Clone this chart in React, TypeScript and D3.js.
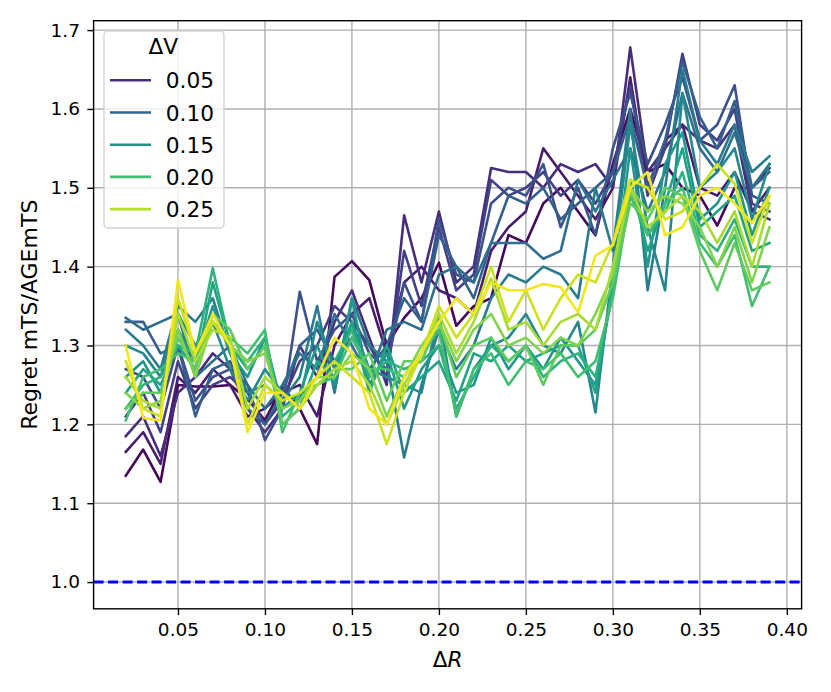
import React, { useRef, useEffect } from 'react';
import * as d3 from 'd3';

// ΔR grid (x axis)
const deltaR = [
    0.02, 0.03, 0.04, 0.05, 0.06, 0.07, 0.08, 0.09, 0.10, 0.11,
    0.12, 0.13, 0.14, 0.15, 0.16, 0.17, 0.18, 0.19, 0.20, 0.21,
    0.22, 0.23, 0.24, 0.25, 0.26, 0.27, 0.28, 0.29, 0.30, 0.31,
    0.32, 0.33, 0.34, 0.35, 0.36, 0.37, 0.38, 0.39,
];

// ΔV of each line (hue)
const deltaV = [0.02, 0.035, 0.05, 0.065, 0.08, 0.095, 0.11, 0.125, 0.14, 0.155, 0.17, 0.185, 0.2, 0.215, 0.23, 0.245, 0.26, 0.275];

// regret ratio mTS / AGEmTS, one array per ΔV
const r020 = [
    1.135, 1.168, 1.127, 1.25, 1.248, 1.248, 1.25, 1.232, 1.205, 1.248,
    1.22, 1.175, 1.387, 1.407, 1.383, 1.30, 1.335, 1.36, 1.405, 1.325,
    1.35, 1.36, 1.44, 1.43, 1.48, 1.50, 1.47, 1.44, 1.53, 1.60,
    1.52, 1.53, 1.50, 1.49, 1.452, 1.50, 1.50, 1.525,
];
const r035 = [
    1.165, 1.19, 1.15, 1.26, 1.24, 1.27, 1.25, 1.21, 1.22, 1.24,
    1.25, 1.21, 1.30, 1.34, 1.36, 1.29, 1.38, 1.40, 1.37, 1.36,
    1.34, 1.42, 1.45, 1.47, 1.55, 1.52, 1.49, 1.46, 1.50, 1.64,
    1.50, 1.56, 1.58, 1.50, 1.49, 1.52, 1.47, 1.50,
];
const r050 = [
    1.185, 1.21, 1.16, 1.24, 1.26, 1.29, 1.27, 1.22, 1.19, 1.22,
    1.30, 1.26, 1.33, 1.37, 1.31, 1.25, 1.465, 1.38, 1.47, 1.38,
    1.40, 1.525, 1.52, 1.52, 1.50, 1.53, 1.52, 1.53, 1.50, 1.678,
    1.52, 1.55, 1.58, 1.56, 1.55, 1.58, 1.47, 1.46,
];
const r065 = [
    1.21, 1.24, 1.19, 1.28, 1.22, 1.25, 1.26, 1.24, 1.20, 1.23,
    1.28, 1.30, 1.35, 1.33, 1.30, 1.26, 1.42, 1.35, 1.45, 1.37,
    1.39, 1.51, 1.49, 1.50, 1.52, 1.49, 1.51, 1.48, 1.52, 1.63,
    1.49, 1.55, 1.67, 1.58, 1.56, 1.60, 1.48, 1.47,
];
const r080 = [
    1.27, 1.26, 1.22, 1.30, 1.23, 1.26, 1.27, 1.25, 1.18, 1.22,
    1.368, 1.28, 1.32, 1.34, 1.29, 1.27, 1.38, 1.33, 1.46, 1.39,
    1.38, 1.48, 1.50, 1.49, 1.53, 1.45, 1.50, 1.44, 1.55, 1.62,
    1.53, 1.58, 1.64, 1.56, 1.58, 1.63, 1.49, 1.48,
];
const r095 = [
    1.33, 1.33, 1.29, 1.30, 1.21, 1.27, 1.28, 1.22, 1.20, 1.24,
    1.30, 1.32, 1.28, 1.31, 1.27, 1.30, 1.36, 1.33, 1.44, 1.40,
    1.36, 1.43, 1.49, 1.48, 1.50, 1.46, 1.48, 1.50, 1.52, 1.59,
    1.50, 1.56, 1.66, 1.59, 1.55, 1.61, 1.50, 1.52,
];
const r110 = [
    1.335, 1.32, 1.33, 1.34, 1.26, 1.28, 1.30, 1.25, 1.22, 1.25,
    1.29, 1.27, 1.34, 1.30, 1.26, 1.32, 1.33, 1.32, 1.39, 1.40,
    1.38, 1.43, 1.43, 1.43, 1.41, 1.42, 1.51, 1.47, 1.51, 1.55,
    1.47, 1.52, 1.62, 1.55, 1.52, 1.57, 1.50, 1.53,
];
const r125 = [
    1.32, 1.30, 1.27, 1.35, 1.33, 1.36, 1.29, 1.24, 1.25, 1.23,
    1.26, 1.35, 1.24, 1.36, 1.30, 1.28, 1.158, 1.25, 1.32, 1.27,
    1.30, 1.36, 1.39, 1.38, 1.40, 1.39, 1.36, 1.50, 1.42, 1.60,
    1.37, 1.50, 1.65, 1.56, 1.53, 1.58, 1.52, 1.54,
];
const r140 = [
    1.30, 1.29, 1.26, 1.34, 1.30, 1.33, 1.27, 1.23, 1.27, 1.24,
    1.23, 1.33, 1.27, 1.33, 1.27, 1.26, 1.25, 1.24, 1.34, 1.21,
    1.27, 1.30, 1.31, 1.34, 1.30, 1.29, 1.33, 1.215, 1.40, 1.58,
    1.45, 1.37, 1.62, 1.50, 1.52, 1.55, 1.46, 1.53,
];
const r155 = [
    1.26, 1.28, 1.24, 1.32, 1.28, 1.35, 1.29, 1.26, 1.31, 1.22,
    1.24, 1.30, 1.25, 1.36, 1.25, 1.29, 1.22, 1.27, 1.30, 1.24,
    1.25, 1.31, 1.27, 1.30, 1.27, 1.31, 1.28, 1.25, 1.37, 1.55,
    1.40, 1.53, 1.57, 1.46, 1.48, 1.52, 1.44, 1.50,
];
const r170 = [
    1.24, 1.27, 1.25, 1.30, 1.27, 1.38, 1.30, 1.27, 1.30, 1.20,
    1.22, 1.28, 1.26, 1.33, 1.24, 1.30, 1.24, 1.26, 1.28, 1.23,
    1.29, 1.28, 1.30, 1.28, 1.29, 1.30, 1.30, 1.24, 1.38, 1.51,
    1.42, 1.48, 1.55, 1.45, 1.47, 1.49, 1.42, 1.43,
];
const r185 = [
    1.22, 1.25, 1.26, 1.30, 1.29, 1.398, 1.30, 1.28, 1.31, 1.21,
    1.23, 1.26, 1.28, 1.32, 1.26, 1.28, 1.27, 1.28, 1.30, 1.22,
    1.26, 1.30, 1.28, 1.30, 1.26, 1.28, 1.29, 1.26, 1.37, 1.50,
    1.44, 1.47, 1.52, 1.44, 1.42, 1.46, 1.40, 1.40,
];
const r200 = [
    1.205, 1.26, 1.27, 1.29, 1.28, 1.33, 1.31, 1.29, 1.32, 1.19,
    1.24, 1.25, 1.26, 1.31, 1.27, 1.27, 1.26, 1.29, 1.32, 1.21,
    1.27, 1.29, 1.25, 1.28, 1.27, 1.29, 1.26, 1.28, 1.36, 1.49,
    1.44, 1.48, 1.50, 1.43, 1.40, 1.44, 1.35, 1.40,
];
const r215 = [
    1.22, 1.24, 1.24, 1.31, 1.27, 1.34, 1.32, 1.27, 1.30, 1.20,
    1.22, 1.25, 1.27, 1.27, 1.29, 1.23, 1.28, 1.28, 1.33, 1.26,
    1.30, 1.31, 1.28, 1.30, 1.25, 1.30, 1.30, 1.32, 1.38, 1.48,
    1.46, 1.50, 1.49, 1.42, 1.37, 1.43, 1.37, 1.38,
];
const r230 = [
    1.24, 1.22, 1.23, 1.32, 1.26, 1.33, 1.30, 1.28, 1.29, 1.22,
    1.23, 1.26, 1.26, 1.29, 1.27, 1.21, 1.26, 1.30, 1.33, 1.28,
    1.32, 1.34, 1.30, 1.31, 1.29, 1.31, 1.30, 1.34, 1.39, 1.50,
    1.47, 1.49, 1.48, 1.45, 1.40, 1.45, 1.38, 1.45,
];
const r245 = [
    1.26, 1.23, 1.22, 1.34, 1.28, 1.32, 1.31, 1.22, 1.26, 1.24,
    1.22, 1.25, 1.27, 1.28, 1.25, 1.20, 1.25, 1.29, 1.34, 1.29,
    1.33, 1.385, 1.32, 1.33, 1.30, 1.33, 1.34, 1.32, 1.40, 1.50,
    1.45, 1.47, 1.49, 1.47, 1.43, 1.47, 1.40, 1.48,
];
const r260 = [
    1.28, 1.22, 1.21, 1.36, 1.29, 1.33, 1.30, 1.20, 1.25, 1.23,
    1.24, 1.26, 1.28, 1.26, 1.24, 1.175, 1.24, 1.29, 1.35, 1.31,
    1.34, 1.40, 1.33, 1.37, 1.32, 1.36, 1.39, 1.38, 1.43, 1.51,
    1.50, 1.46, 1.47, 1.50, 1.53, 1.505, 1.43, 1.49,
];
const r275 = [
    1.30, 1.208, 1.205, 1.383, 1.29, 1.34, 1.30, 1.19, 1.24, 1.24,
    1.22, 1.26, 1.31, 1.29, 1.22, 1.20, 1.26, 1.29, 1.33, 1.36,
    1.34, 1.38, 1.37, 1.37, 1.378, 1.374, 1.342, 1.414, 1.427, 1.50,
    1.52, 1.44, 1.45, 1.49, 1.50, 1.48, 1.455, 1.49,
];

const regret = [r020, r035, r050, r065, r080, r095, r110, r125, r140, r155, r170, r185, r200, r215, r230, r245, r260, r275];

const legendValues = [0.05, 0.10, 0.15, 0.20, 0.25];
const legendLabels = ['0.05', '0.10', '0.15', '0.20', '0.25'];
const xTicks = [0.05, 0.10, 0.15, 0.20, 0.25, 0.30, 0.35, 0.40];
const yTicks = [1.0, 1.1, 1.2, 1.3, 1.4, 1.5, 1.6, 1.7];
const baseline = 1.0;

const FONT = 'DejaVu Sans, Liberation Sans, sans-serif';

const RegretChart: React.FC<{ width?: number; height?: number }> = ({ width = 831, height = 692 }) => {
    const svgRef = useRef<SVGSVGElement>(null);

    useEffect(() => {
        if (!svgRef.current) return;
        const svg = d3.select(svgRef.current);
        svg.selectAll('*').remove();

        const left = 93.6, right = 801.6, top = 20.7, bottom = 608.8;

        const xScale = d3.scaleLinear().domain([0.0015, 0.4085]).range([left, right]);
        const yScale = d3.scaleLinear().domain([0.9661, 1.7119]).range([bottom, top]);
        const color = d3.scaleSequential(d3.interpolateViridis).domain([0.015, 0.28]);

        svg.append('rect').attr('width', width).attr('height', height).attr('fill', '#ffffff');

        // grid
        const grid = svg.append('g').attr('stroke', '#b0b0b0').attr('stroke-width', 1.4);
        xTicks.forEach(t => {
            grid.append('line')
                .attr('x1', xScale(t)).attr('x2', xScale(t))
                .attr('y1', top).attr('y2', bottom);
        });
        yTicks.forEach(t => {
            grid.append('line')
                .attr('x1', left).attr('x2', right)
                .attr('y1', yScale(t)).attr('y2', yScale(t));
        });

        // lines, one per ΔV
        const line = d3.line<number>()
            .x((_, i) => xScale(deltaR[i]))
            .y(d => yScale(d));

        regret.forEach((s, k) => {
            svg.append('path')
                .datum(s)
                .attr('fill', 'none')
                .attr('stroke', color(deltaV[k]))
                .attr('stroke-width', 2.6)
                .attr('stroke-linejoin', 'round')
                .attr('stroke-linecap', 'square')
                .attr('d', line);
        });

        // reference line at 1.0
        svg.append('line')
            .attr('x1', left).attr('x2', right)
            .attr('y1', yScale(baseline)).attr('y2', yScale(baseline))
            .attr('stroke', '#0000ff')
            .attr('stroke-width', 3)
            .attr('stroke-dasharray', '10,4.5');

        // axes
        const xAxis = d3.axisBottom(xScale).tickValues(xTicks).tickSize(6.3).tickSizeOuter(0)
            .tickPadding(8).tickFormat(d => d3.format('.2f')(d as number));
        const yAxis = d3.axisLeft(yScale).tickValues(yTicks).tickSize(6.3).tickSizeOuter(0)
            .tickPadding(7.3).tickFormat(d => d3.format('.1f')(d as number));

        const gx = svg.append('g').attr('transform', `translate(0,${bottom})`).call(xAxis);
        const gy = svg.append('g').attr('transform', `translate(${left},0)`).call(yAxis);
        [gx, gy].forEach(g => {
            g.select('.domain').remove();
            g.selectAll('line').attr('stroke', '#000').attr('stroke-width', 1.4);
            g.selectAll('text')
                .attr('fill', '#000')
                .attr('font-family', FONT)
                .attr('font-size', 18.5);
        });

        // spines
        svg.append('rect')
            .attr('x', left).attr('y', top)
            .attr('width', right - left).attr('height', bottom - top)
            .attr('fill', 'none').attr('stroke', '#000').attr('stroke-width', 1.4);

        // axis labels
        const xl = svg.append('text')
            .attr('x', (left + right) / 2).attr('y', 666.7)
            .attr('text-anchor', 'middle')
            .attr('font-family', FONT).attr('font-size', 21.7).attr('fill', '#000');
        xl.append('tspan').text('Δ');
        xl.append('tspan').attr('font-style', 'italic').text('R');

        svg.append('text')
            .attr('transform', `translate(37,${(top + bottom) / 2}) rotate(-90)`)
            .attr('text-anchor', 'middle')
            .attr('font-family', FONT).attr('font-size', 22).attr('fill', '#000')
            .text('Regret mTS/AGEmTS');

        // legend
        const lg = svg.append('g');
        lg.append('rect')
            .attr('x', 104).attr('y', 31).attr('width', 120).attr('height', 197).attr('rx', 4)
            .attr('fill', '#ffffff').attr('fill-opacity', 0.8)
            .attr('stroke', '#d4d4d4').attr('stroke-width', 1.4);
        lg.append('text')
            .attr('x', 163.3).attr('y', 54.3)
            .attr('text-anchor', 'middle')
            .attr('font-family', FONT).attr('font-size', 21.7).attr('fill', '#000')
            .text('ΔV');
        legendValues.forEach((v, k) => {
            const yc = 80.3 + k * 32.2;
            lg.append('line')
                .attr('x1', 110).attr('x2', 151)
                .attr('y1', yc).attr('y2', yc)
                .attr('stroke', color(v)).attr('stroke-width', 2.6);
            lg.append('text')
                .attr('x', 165.7).attr('y', yc + 8)
                .attr('font-family', FONT).attr('font-size', 21.7).attr('fill', '#000')
                .text(legendLabels[k]);
        });
    }, [width, height]);

    return (
        <div style={{ position: 'absolute', left: 0, top: 0, width, height, background: '#fff' }}>
            <svg ref={svgRef} width={width} height={height} viewBox={`0 0 ${width} ${height}`} />
        </div>
    );
};

export default function App() {
    return <RegretChart />;
}
